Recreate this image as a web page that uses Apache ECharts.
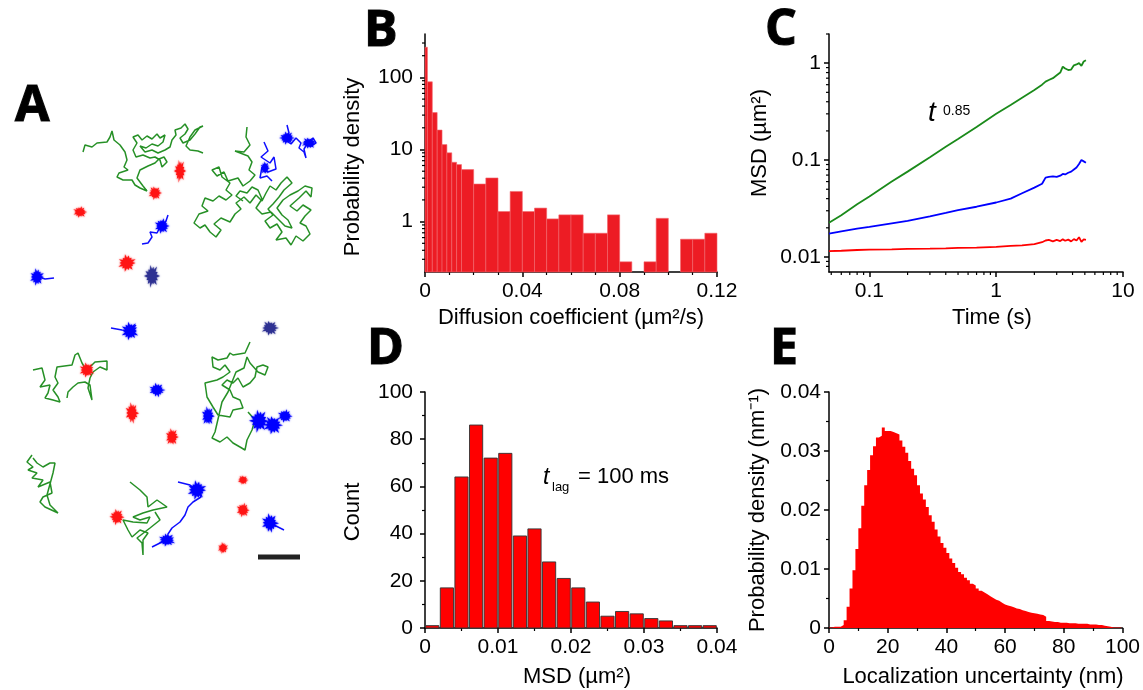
<!DOCTYPE html>
<html><head><meta charset="utf-8">
<script src="https://cdn.jsdelivr.net/npm/echarts@6/dist/echarts.min.js"></script>
<style>html,body{margin:0;padding:0;background:#fff}#c{width:1143px;height:690px}</style>
</head><body><div id="c"></div>
<script>
// ================= DATA =================
// Panel A: trajectories (position units)
const trackGreen1 = [[83,152],[85,145],[92,147],[97,143],[107,142],[110,137],[112,131],[114,140],[120,145],[125,152],[127,160],[124,167],[128,170],[119,173],[117,177],[123,180],[132,180],[135,185],[140,188],[147,191],[143,186],[137,178],[140,170],[148,166],[155,163],[159,159],[164,157],[167,162],[162,167],[160,160],[155,157],[150,158],[143,155],[136,157],[133,150],[137,143],[133,137],[138,135],[142,140],[147,136],[152,139],[157,134],[160,138],[165,135],[163,142],[158,146],[152,144],[146,148],[140,146],[145,152],[152,150],[158,153],[165,150],[170,147],[172,140],[176,135],[175,130],[181,128],[185,124],[188,129],[185,134],[180,138],[183,143],[190,140],[195,134],[200,127],[203,126],[195,130],[190,137],[186,146],[190,150],[198,151],[203,153]];
const trackGreen2 = [[247,127],[246,137],[250,145],[244,152],[235,151],[248,156],[252,162],[249,170],[255,175],[250,181],[243,186],[238,178],[228,181],[224,172],[217,176],[212,170],[219,167],[222,177],[230,183],[226,190],[232,195],[226,200],[219,196],[213,201],[205,198],[202,206],[208,211],[199,214],[194,223],[200,228],[205,225],[210,232],[216,237],[221,230],[214,224],[221,218],[230,222],[235,214],[241,209],[236,203],[244,197],[250,203],[256,195],[262,201],[266,193],[270,186],[276,190],[281,183],[287,177],[292,183],[284,190],[279,197],[273,204],[268,209],[273,215],[265,221],[270,228],[277,224],[282,232],[276,240],[286,238],[291,245],[296,236],[303,241],[310,234],[306,226],[300,223],[305,216],[311,210],[303,205],[297,211],[290,206],[299,198],[306,191],[311,197],[312,188],[305,186],[298,191],[290,195],[283,200],[277,208],[282,215],[288,220],[292,228],[285,226],[279,220],[271,212],[262,214],[256,208],[262,199],[258,190],[252,187],[247,193],[240,191],[236,196],[243,201]];
const trackGreen3 = [[33,370],[42,368],[45,380],[40,387],[50,385],[48,393],[45,398],[53,400],[60,402],[58,397],[53,390],[58,383],[55,377],[57,367],[72,365],[75,355],[78,353],[82,363],[85,368],[90,367],[95,362],[107,361],[107,370],[100,367],[93,372],[90,378],[88,388],[92,400],[90,385],[85,382],[78,383],[73,387],[68,392],[67,398]];
const trackGreen4 = [[250,342],[245,353],[233,355],[230,353],[227,358],[218,360],[212,357],[213,367],[220,370],[225,365],[230,372],[223,377],[217,380],[205,383],[207,397],[213,407],[218,415],[230,417],[233,410],[243,408],[240,400],[233,397],[230,390],[222,385],[227,380],[233,383],[238,378],[243,387],[250,383],[255,377],[257,367],[263,365],[268,367],[265,375],[258,372],[250,363],[247,357],[244,368],[236,372],[228,392],[222,402],[215,432],[212,438],[220,442],[227,437],[233,443],[240,447],[245,450],[247,440],[252,430],[255,420],[248,412]];
const trackGreen5 = [[32,455],[27,462],[33,467],[28,470],[37,473],[32,478],[43,480],[38,487],[50,482],[52,493],[43,497],[40,502],[45,507],[58,513],[50,505],[47,495],[53,473],[55,463],[50,463],[43,467],[37,463],[33,458]];
const trackGreen6 = [[130,482],[140,490],[147,497],[148,507],[157,500],[167,507],[153,510],[143,513],[133,517],[140,520],[150,517],[147,523],[133,522],[123,520],[128,530],[132,537],[140,530],[148,533],[143,540],[143,555],[142,543],[137,538],[150,528],[160,520],[155,512]];
const trackBlue1 = [[287,125],[289,133],[284,139],[291,144],[296,138],[301,143],[299,148],[304,152],[306,158],[304,149],[309,141],[313,138],[316,143],[310,147]];
const trackBlue2 = [[264,142],[268,151],[261,157],[270,163],[274,157],[276,169],[268,172],[262,167],[260,178],[267,176],[272,181]];
const trackBlue3 = [[142,244],[148,243],[152,237],[150,232],[157,233],[160,227],[166,221],[168,215]];
const trackBlue4 = [[33,275],[45,279],[54,278]];
const trackBlue5 = [[111,328],[122,330],[130,331],[136,325]];
const trackBlue6 = [[178,482],[190,485],[197,490],[201,497],[193,502],[188,507],[185,515],[180,522],[172,528],[168,534],[167,540],[160,543],[152,547]];
const trackBlue7 = [[270,523],[284,530]];
// confined molecules: [x, y, spreadX, spreadY]
const blobsRed = [[180,171,12,24],[155,193,14,15],[80,212,15,12],[127,263,19,18],[87,370,16,16],[132,413,14,22],[172,437,14,18],[117,517,15,17],[243,480,11,10],[243,510,14,15],[223,548,11,12]];
const blobsBlue = [[287,138,16,14],[309,143,16,12],[162,226,16,16],[37,277,15,18],[130,331,18,20],[157,390,17,15],[208,416,14,20],[259,421,20,24],[273,425,20,20],[285,416,16,14],[197,490,20,20],[167,540,18,14],[270,523,18,20],[265,168,10,14]];
const blobsNavy = [[152,276,16,24],[270,328,18,16]];
const scaleBar = [[258,557],[300,557]];

// Panel B: diffusion coefficient histogram (bin edges, probability density)
const bBinEdges = [0,0.001,0.003,0.005,0.007,0.009,0.011,0.013,0.015,0.02,0.025,0.03,0.035,0.04,0.045,0.05,0.055,0.06,0.065,0.07,0.075,0.08,0.085,0.09,0.095,0.1,0.105,0.11,0.115,0.12];
const bDensity = [262,86.9,32.5,18.6,11.7,9.0,6.65,6.18,5.26,3.32,4.03,1.38,2.62,1.38,1.54,1.09,1.24,1.24,0.69,0.69,1.24,0.277,null,0.277,1.11,null,0.57,0.57,0.69];
const bMinorY = [0.3,0.4,0.5,0.6,0.7,0.8,0.9,2,3,4,5,6,7,8,9,20,30,40,50,60,70,80,90,200,300];

// Panel C: MSD vs time
const cTime = [0.048,0.06,0.08,0.1,0.15,0.2,0.3,0.4,0.5,0.7,1.0,1.3,1.6,2.0,2.3,2.45,2.6,2.8,3.0,3.2,3.35,3.5,3.7,3.9,4.1,4.3,4.5,4.7,4.9,5.1];
const cGreen = [0.0225,0.027,0.035,0.042,0.060,0.076,0.107,0.137,0.165,0.22,0.30,0.37,0.44,0.53,0.60,0.645,0.67,0.70,0.75,0.80,0.92,0.88,0.85,0.86,0.95,0.97,1.00,0.94,1.04,1.07];
const cBlue = [0.0174,0.0184,0.0196,0.0204,0.0222,0.0236,0.0262,0.0285,0.0305,0.033,0.0365,0.040,0.0455,0.052,0.057,0.066,0.067,0.068,0.067,0.069,0.072,0.071,0.074,0.076,0.080,0.084,0.091,0.100,0.097,0.094];
const cRed = [0.0115,0.0116,0.0118,0.0119,0.0120,0.0121,0.0122,0.0123,0.0124,0.0125,0.0127,0.0130,0.0132,0.0136,0.0142,0.0148,0.0150,0.0145,0.0150,0.0146,0.0152,0.0147,0.0151,0.0145,0.0153,0.0148,0.0160,0.0143,0.0152,0.0150];
const cMinorX = [0.05,0.06,0.07,0.08,0.09,0.2,0.3,0.4,0.5,0.6,0.7,0.8,0.9,2,3,4,5,6,7,8,9];
const cMinorY = [0.008,0.009,0.02,0.03,0.04,0.05,0.06,0.07,0.08,0.09,0.2,0.3,0.4,0.5,0.6,0.7,0.8,0.9,2];

// Panel D: MSD histogram (t_lag = 100 ms)
const dBinEdges = [0,0.002,0.004,0.006,0.008,0.010,0.012,0.014,0.016,0.018,0.020,0.022,0.024,0.026,0.028,0.030,0.032,0.034,0.036,0.038,0.040];
const dCount = [1,17,64,86,72,74,39,42,28,21,17,11,5,7,6,4,3,1,1,1];

// Panel E: localization uncertainty, 1-nm bins starting at 0 nm
const eDensity = [0.0001,0.0002,0.0002,0.0002,0.0005,0.0013,0.0036,0.0067,0.0098,0.0134,
 0.0169,0.0207,0.0242,0.0268,0.0293,0.0308,0.0323,0.0326,0.0340,0.0334,
 0.0334,0.0332,0.0330,0.0328,0.0318,0.0307,0.0297,0.0283,0.0270,0.0259,
 0.0242,0.0228,0.0218,0.0205,0.0191,0.0180,0.0167,0.0155,0.0144,0.0136,
 0.0127,0.0118,0.0110,0.0102,0.0095,0.0091,0.0085,0.0081,0.0075,0.0072,
 0.0067,0.0063,0.0060,0.0057,0.0054,0.0051,0.0048,0.0046,0.0043,0.0040,
 0.0038,0.0037,0.0035,0.0033,0.0032,0.0030,0.0029,0.0027,0.0026,0.0025,
 0.0024,0.0023,0.0022,0.0019,0.0012,0.0011,0.0010,0.0010,0.0009,0.0009,
 0.0009,0.0008,0.0008,0.0008,0.0007,0.0007,0.0007,0.0007,0.0006,0.0006,
 0.0006,0.0005,0.0005,0.0004,0.0003,0.0002,0.0001,0.0001,0.0001,0.0001];
const eBinWidth = 1;

// ================= CHART =================
const FONT = '"Liberation Sans", Arial, Helvetica, sans-serif';
const LETTER_FONT = 'bold 50px "Open Sans", "DejaVu Sans", sans-serif';
const B_XMIN = 0, B_YMIN = 0.2, C_XMIN = 0.048, C_YMIN = 0.007;

function mergeDeep(a, b) {
  const o = Object.assign({}, a);
  for (const k in b) {
    if (b[k] && typeof b[k] === 'object' && !Array.isArray(b[k]) && a[k] && typeof a[k] === 'object') o[k] = mergeDeep(a[k], b[k]);
    else o[k] = b[k];
  }
  return o;
}
const baseAxis = {
  axisLine: {show: true, onZero: false, lineStyle: {color: '#000', width: 1.5}},
  axisTick: {show: true, inside: false, length: 5, lineStyle: {color: '#000', width: 1.5}},
  minorTick: {show: false},
  axisLabel: {color: '#000', fontSize: 21, fontFamily: FONT},
  splitLine: {show: false}, minorSplitLine: {show: false}
};
const minorT = (n) => ({show: true, splitNumber: n, length: 3, lineStyle: {color: '#000', width: 1.2}});

// star-like shape for confined molecules (style only)
const STAR_OUT = [1,0.8,0.95,0.7,1,0.85,0.75,1,0.9,0.7,0.95,0.8,1,0.78];
const STAR_IN = 0.55;
function blobRender(color) {
  return function (params, api) {
    const c = api.coord([api.value(0), api.value(1)]);
    const s = api.size([api.value(2), api.value(3)]);
    const rx = Math.abs(s[0]) / 2, ry = Math.abs(s[1]) / 2;
    const n = STAR_OUT.length * 2, rot = params.dataIndex * 0.9;
    const pts = [];
    for (let i = 0; i < n; i++) {
      const f = i % 2 === 0 ? STAR_OUT[i / 2] : STAR_IN;
      const a = rot + i * 2 * Math.PI / n;
      pts.push([c[0] + Math.cos(a) * f * rx, c[1] + Math.sin(a) * f * ry]);
    }
    return {type: 'polygon', shape: {points: pts}, style: {fill: color, shadowBlur: 2, shadowColor: color}};
  };
}
function trackSeries(data, color) {
  return {type: 'line', xAxisIndex: 0, yAxisIndex: 0, data: data, symbol: 'none', silent: true,
    lineStyle: {color: color, width: 1.5, opacity: 0.95}, z: 2};
}
function blobSeries(data, color) {
  return {type: 'custom', xAxisIndex: 0, yAxisIndex: 0, data: data, renderItem: blobRender(color), silent: true, z: 3};
}
function minorTickSeries(xi, yi, data, dir) {
  return {type: 'custom', xAxisIndex: xi, yAxisIndex: yi, data: data, silent: true, z: 10, clip: false,
    renderItem: function (params, api) {
      const p = api.coord([api.value(0), api.value(1)]);
      const shape = dir === 'x' ? {x1: p[0], y1: p[1], x2: p[0], y2: p[1] + 3} : {x1: p[0], y1: p[1], x2: p[0] - 3, y2: p[1]};
      return {type: 'line', shape: shape, style: {stroke: '#000', lineWidth: 1.2}};
    }};
}
function histRender(yBase, fill, stroke, lw, inset) {
  return function (params, api) {
    const p0 = api.coord([api.value(0), api.value(2)]);
    const p1 = api.coord([api.value(1), yBase]);
    return {type: 'rect', shape: {x: p0[0] + inset, y: p0[1], width: p1[0] - p0[0] - 2 * inset, height: p1[1] - p0[1]},
      style: {fill: fill, stroke: stroke, lineWidth: lw}};
  };
}

const bData = [];
bDensity.forEach((v, i) => { if (v != null) bData.push([bBinEdges[i], bBinEdges[i + 1], v]); });
const dData = dCount.map((v, i) => [dBinEdges[i], dBinEdges[i + 1], v]);
const eData = eDensity.map((v, i) => [i * eBinWidth, v]);
eData.push([eDensity.length * eBinWidth, eDensity[eDensity.length - 1]]);

const texts = [];
function label(txt, x, y, font, rot, align, strokeW) {
  const st = {text: txt, font: font, fill: '#000', align: align || 'center', verticalAlign: 'middle'};
  if (strokeW) { st.stroke = '#1a1a1a'; st.lineWidth = strokeW; }
  texts.push({type: 'text', x: x, y: y, rotation: rot || 0, silent: true, z: 100, style: st});
}
const TF = '22px ' + FONT;
label('A', 15, 107, LETTER_FONT, 0, 'left', 1.2);
label('B', 364, 32, LETTER_FONT, 0, 'left', 1.2);
label('C', 765, 31, LETTER_FONT, 0, 'left', 1.2);
label('D', 367, 350, LETTER_FONT, 0, 'left', 1.2);
label('E', 770, 350, LETTER_FONT, 0, 'left', 1.2);
label('Diffusion coefficient (µm²/s)', 571, 318, TF);
label('Probability density', 353, 167, TF, Math.PI / 2);
label('Time (s)', 992, 318, TF);
label('MSD (µm²)', 760, 143, TF, Math.PI / 2);
label('MSD (µm²)', 577, 677, TF);
label('Count', 353, 512, TF, Math.PI / 2);
label('Localization uncertainty (nm)', 983, 677, TF);
label('Probability density (nm⁻¹)', 758, 510, TF, Math.PI / 2);
label('t', 928, 113, 'italic 28px ' + FONT, 0, 'left');
label('0.85', 943, 111, '14px ' + FONT, 0, 'left');
label('t', 543, 478, 'italic 23px ' + FONT, 0, 'left');
label('lag', 552, 487, '13px ' + FONT, 0, 'left');
label('= 100 ms', 578, 477, '22px ' + FONT, 0, 'left');

const option = {
  animation: false,
  backgroundColor: '#fff',
  grid: [
    {left: 0, top: 0, width: 330, height: 690},
    {left: 425, top: 34, width: 292, height: 238},
    {left: 829, top: 34, width: 294, height: 238},
    {left: 425, top: 392, width: 292, height: 236},
    {left: 829, top: 392, width: 294, height: 236}
  ],
  xAxis: [
    {gridIndex: 0, type: 'value', min: 0, max: 330, show: false},
    mergeDeep(baseAxis, {gridIndex: 1, type: 'value', min: B_XMIN, max: 0.12, interval: 0.04, minorTick: minorT(4), axisLabel: {margin: 9}}),
    mergeDeep(baseAxis, {gridIndex: 2, type: 'log', logBase: 10, min: C_XMIN, max: 10, axisLabel: {margin: 9, showMinLabel: false}}),
    mergeDeep(baseAxis, {gridIndex: 3, type: 'value', min: 0, max: 0.04, interval: 0.01, minorTick: minorT(2), axisLabel: {margin: 9}}),
    mergeDeep(baseAxis, {gridIndex: 4, type: 'value', min: 0, max: 100, interval: 20, minorTick: minorT(2), axisLabel: {margin: 9}})
  ],
  yAxis: [
    {gridIndex: 0, type: 'value', min: 0, max: 690, inverse: true, show: false},
    mergeDeep(baseAxis, {gridIndex: 1, type: 'log', logBase: 10, min: B_YMIN, max: 400, axisLabel: {margin: 12, showMinLabel: false, showMaxLabel: false}}),
    mergeDeep(baseAxis, {gridIndex: 2, type: 'log', logBase: 10, min: C_YMIN, max: 2, axisLabel: {margin: 8, showMinLabel: false, showMaxLabel: false}}),
    mergeDeep(baseAxis, {gridIndex: 3, type: 'value', min: 0, max: 100, interval: 20, minorTick: minorT(2), axisLabel: {margin: 12}}),
    mergeDeep(baseAxis, {gridIndex: 4, type: 'value', min: 0, max: 0.04, interval: 0.01, minorTick: minorT(2), axisLabel: {margin: 8}})
  ],
  graphic: texts,
  series: [
    trackSeries(trackGreen1, '#1a8a1a'), trackSeries(trackGreen2, '#1a8a1a'), trackSeries(trackGreen3, '#1a8a1a'),
    trackSeries(trackGreen4, '#1a8a1a'), trackSeries(trackGreen5, '#1a8a1a'), trackSeries(trackGreen6, '#1a8a1a'),
    trackSeries(trackBlue1, '#0000ff'), trackSeries(trackBlue2, '#0000ff'), trackSeries(trackBlue3, '#0000ff'),
    trackSeries(trackBlue4, '#0000ff'), trackSeries(trackBlue5, '#0000ff'), trackSeries(trackBlue6, '#0000ff'),
    trackSeries(trackBlue7, '#0000ff'),
    blobSeries(blobsRed, '#ff1414'), blobSeries(blobsBlue, '#0000ff'), blobSeries(blobsNavy, '#2e3192'),
    {type: 'line', xAxisIndex: 0, yAxisIndex: 0, data: scaleBar, symbol: 'none', lineStyle: {color: '#222', width: 5, cap: 'butt'}, silent: true},
    // B
    {type: 'custom', xAxisIndex: 1, yAxisIndex: 1, data: bData, silent: true, renderItem: histRender(B_YMIN, '#ed1c24', '#f2676c', 0.6, 0)},
    minorTickSeries(1, 1, bMinorY.map(v => [B_XMIN, v]), 'y'),
    // C
    {type: 'line', xAxisIndex: 2, yAxisIndex: 2, data: cTime.map((t, i) => [t, cRed[i]]), symbol: 'none', lineStyle: {color: '#ff0000', width: 1.8}, silent: true},
    {type: 'line', xAxisIndex: 2, yAxisIndex: 2, data: cTime.map((t, i) => [t, cBlue[i]]), symbol: 'none', lineStyle: {color: '#0000ff', width: 1.8}, silent: true},
    {type: 'line', xAxisIndex: 2, yAxisIndex: 2, data: cTime.map((t, i) => [t, cGreen[i]]), symbol: 'none', lineStyle: {color: '#1a8a1a', width: 1.8}, silent: true},
    minorTickSeries(2, 2, cMinorX.map(v => [v, C_YMIN]), 'x'),
    minorTickSeries(2, 2, cMinorY.map(v => [C_XMIN, v]), 'y'),
    // D
    {type: 'custom', xAxisIndex: 3, yAxisIndex: 3, data: dData, silent: true, renderItem: histRender(0, '#ff0000', '#333333', 0.9, 0.7)},
    // E
    {type: 'line', xAxisIndex: 4, yAxisIndex: 4, data: eData, step: 'end', symbol: 'none', silent: true,
      lineStyle: {width: 0}, areaStyle: {color: '#ff0000', opacity: 1}}
  ]
};
const chart = echarts.init(document.getElementById('c'), null, {renderer: 'canvas'});
chart.setOption(option);
</script>
</body></html>
